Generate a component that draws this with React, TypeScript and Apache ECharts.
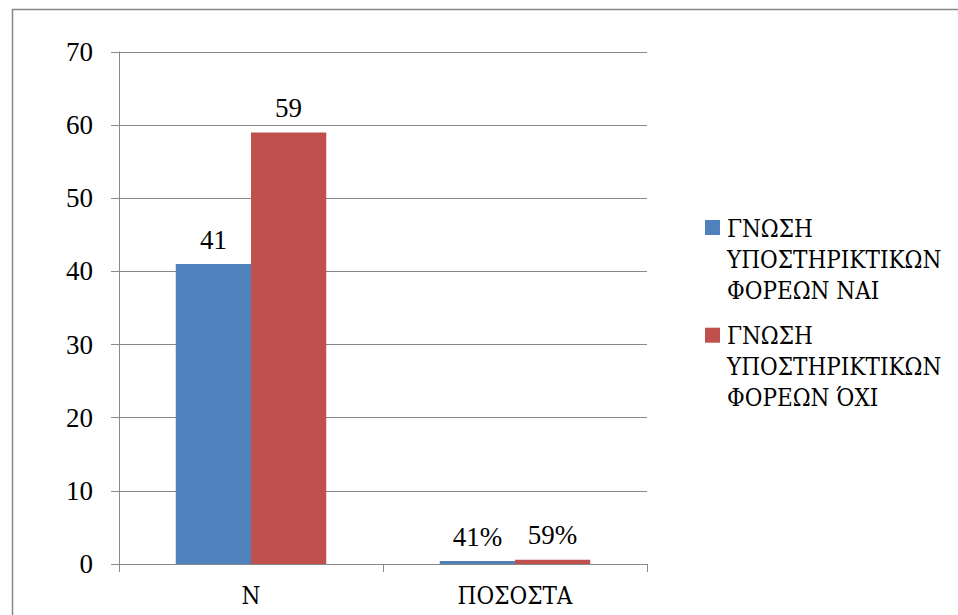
import React, { useEffect, useRef } from "react";
import * as echarts from "echarts";

const categories = ["N", "ΠΟΣΟΣΤΑ"];
const seriesNames = [
  "ΓΝΩΣΗ ΥΠΟΣΤΗΡΙΚΤΙΚΩΝ ΦΟΡΕΩΝ ΝΑΙ",
  "ΓΝΩΣΗ ΥΠΟΣΤΗΡΙΚΤΙΚΩΝ ΦΟΡΕΩΝ ΌΧΙ",
];
const naiValues = [41, 0.41];
const oxiValues = [59, 0.59];
const yTicks = { min: 0, max: 70, interval: 10 };
const colors = ["#4F81BD", "#C0504D"];

const FONT = "'Liberation Serif', 'DejaVu Serif Condensed', 'DejaVu Serif', serif";
const GREEK = "'DejaVu Serif Condensed', 'DejaVu Serif', serif";
const LH = 31;

export default function App() {
  const ref = useRef<HTMLDivElement>(null);
  useEffect(() => {
    if (!ref.current) return;
    const chart = echarts.init(ref.current, null, { renderer: "svg" });
    const labelFmt = (p: any) =>
      p.dataIndex === 1 ? Math.round(p.value * 100) + "%" : String(p.value);
    const mkSeries = (name: string, data: number[], color: string) => ({
      name,
      type: "bar",
      data,
      barGap: "0%",
      barCategoryGap: "43%",
      itemStyle: { color },
      label: {
        show: true,
        position: "top",
        distance: 11,
        formatter: labelFmt,
        fontFamily: FONT,
        fontSize: 27,
        color: "#000",
      },
    });
    const legendItems: any[] = [];
    seriesNames.forEach((name, i) => {
      const parts = name.split(" ");
      const y0 = 220 + i * 107.7;
      legendItems.push({
        type: "rect",
        x: 705,
        y: y0,
        shape: { x: 0, y: 0, width: 15, height: 15 },
        style: { fill: colors[i] },
        silent: true,
      });
      legendItems.push({
        type: "text",
        x: 727,
        y: y0 - 7,
        style: {
          text: [parts[0], parts[1], parts.slice(2).join(" ")].join("\n"),
          fontFamily: GREEK,
          fontSize: 24,
          lineHeight: LH,
          fill: "#000",
          verticalAlign: "top",
          align: "left",
        },
        silent: true,
      });
    });
    chart.setOption({
      animation: false,
      textStyle: { fontFamily: FONT },
      grid: { left: 119, right: 311, top: 52, bottom: 51, containLabel: false },
      legend: { show: false, data: seriesNames },
      xAxis: {
        type: "category",
        data: categories,
        axisLine: { lineStyle: { color: "#888", width: 1 } },
        axisTick: { show: true, length: 8, lineStyle: { color: "#888" } },
        axisLabel: { fontFamily: GREEK, fontSize: 24, color: "#000", margin: 20 },
      },
      yAxis: {
        type: "value",
        min: yTicks.min,
        max: yTicks.max,
        interval: yTicks.interval,
        axisLine: { show: true, lineStyle: { color: "#888", width: 1 } },
        axisTick: { show: true, length: 8, lineStyle: { color: "#888" } },
        axisLabel: { fontFamily: FONT, fontSize: 27, color: "#000", margin: 26 },
        splitLine: { lineStyle: { color: "#888", width: 1 } },
      },
      graphic: [
        {
          type: "rect",
          left: 10,
          top: 7,
          shape: { x: 0, y: 0, width: 960, height: 620 },
          style: { fill: "none", stroke: "#888", lineWidth: 1.5 },
          silent: true,
        },
        ...legendItems,
      ],
      series: [
        mkSeries(seriesNames[0], naiValues, colors[0]),
        mkSeries(seriesNames[1], oxiValues, colors[1]),
      ],
    });
    return () => chart.dispose();
  }, []);
  return (
    <div
      ref={ref}
      style={{ position: "absolute", left: 0, top: 0, width: 958, height: 615, background: "#fff" }}
    />
  );
}
